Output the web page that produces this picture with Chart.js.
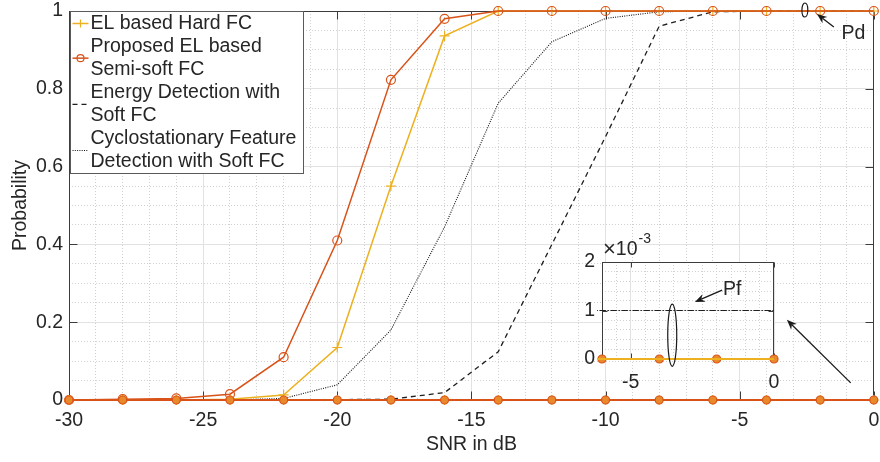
<!DOCTYPE html>
<html>
<head>
<meta charset="utf-8">
<script src="https://cdn.jsdelivr.net/npm/chart.js@4/dist/chart.umd.min.js"></script>
<style>
  html, body { margin: 0; padding: 0; background: #fff; }
  #wrap { position: relative; width: 880px; height: 462px; overflow: hidden; }
  #main { position: absolute; left: 0; top: 0; }
  #inset { position: absolute; left: 560px; top: 230px; }
</style>
</head>
<body>
<div id="wrap">
  <canvas id="main" width="880" height="462"></canvas>
  <canvas id="inset" width="230" height="170"></canvas>
</div>
<script>
// SNR sweep (dB)
const snr = [-30, -28, -26, -24, -22, -20, -18, -16, -14, -12, -10, -8, -6, -4, -2, 0];

// Probability of detection
const pdHard     = [0, 0, 0, 0.002, 0.013, 0.135, 0.55, 0.936, 1, 1, 1, 1, 1, 1, 1, 1];
const pdProposed = [0, 0.002, 0.004, 0.015, 0.11, 0.41, 0.823, 0.98, 1, 1, 1, 1, 1, 1, 1, 1];
const pdEnergy   = [0, 0, 0, 0, 0, 0.001, 0.002, 0.019, 0.124, 0.4, 0.677, 0.961, 0.998, 1, 1, 1];
const pdCyclo    = [0, 0, 0, 0, 0.004, 0.039, 0.18, 0.445, 0.763, 0.921, 0.981, 0.998, 1, 1, 1, 1];

// Probability of false alarm
const pfHard     = [0, 0, 0, 0, 0, 0, 0, 0, 0, 0, 0, 0, 0, 0, 0, 0];
const pfProposed = [0, 0, 0, 0, 0, 0, 0, 0, 0, 0, 0, 0, 0, 0, 0, 0];
const pfEnergy   = [0.001, 0.001, 0.001, 0.001, 0.001, 0.001, 0.001, 0.001, 0.001, 0.001, 0.001, 0.001, 0.001, 0.001, 0.001, 0.001];
const pfCyclo    = [0.001, 0.001, 0.001, 0.001, 0.001, 0.001, 0.001, 0.001, 0.001, 0.001, 0.001, 0.001, 0.001, 0.001, 0.001, 0.001];

// Tick values
const xTicks      = [-30, -25, -20, -15, -10, -5, 0];
const yTicks      = [0, 0.2, 0.4, 0.6, 0.8, 1];
const insetXTicks = [-5, 0];
const insetYTicks = [0, 0.001, 0.002];

// Legend entries (dataset label, wrapped text lines)
const legendKeys = ['EL based Hard FC', 'Proposed EL based Semi-soft FC', 'Energy Detection with Soft FC', 'Cyclostationary Feature Detection with Soft FC'];
const legendLines = [
  ["EL based Hard FC"],
  ["Proposed EL based", "Semi-soft FC"],
  ["Energy Detection with", "Soft FC"],
  ["Cyclostationary Feature", "Detection with Soft FC"]
];

const FONT = "'Liberation Sans', Arial, Helvetica, sans-serif";
const FSIZE = 19.5;
const TEXT = '#262626';
const AXIS = '#3c3c3c';
const GRID_MAJOR = '#e2e2e2';
const GRID_MINOR = '#d0d0d0';
const C_RED = '#D95319';
const C_YEL = '#EDB120';
const C_DOT = '#E8892B';

function stepTicks(min, max, step) {
  const t = [];
  const n = Math.round((max - min) / step);
  for (let i = 0; i <= n; i++) t.push(+(min + i * step).toFixed(6));
  return t;
}
function pts(arr) { return snr.map((x, i) => ({ x: x, y: arr[i] })); }
function setTicks(list) { return s => { s.ticks = list.map(v => ({ value: v })); }; }
function fixSize(prop, size) {
  return s => {
    s[prop] = size;
    s.paddingTop = 0; s.paddingBottom = 0; s.paddingLeft = 0; s.paddingRight = 0;
  };
}

// minor grid scale (dotted lines only, no labels, no space)
function minorScale(axis, min, max, step) {
  return {
    type: 'linear', axis: axis, position: axis === 'x' ? 'bottom' : 'left',
    min: min, max: max,
    afterBuildTicks: setTicks(stepTicks(min, max, step)),
    afterFit: fixSize(axis === 'x' ? 'height' : 'width', 0),
    ticks: { display: false },
    grid: { color: GRID_MINOR, lineWidth: 1, drawTicks: false },
    border: { display: false, dash: [1, 2] }
  };
}

function drawMarker(ctx, style, x, y, r, stroke) {
  ctx.save();
  ctx.setLineDash([]);
  ctx.lineWidth = 1.2;
  ctx.strokeStyle = stroke;
  ctx.beginPath();
  if (style === 'circle') {
    ctx.arc(x, y, r, 0, Math.PI * 2);
  } else if (style === 'cross') {
    ctx.moveTo(x - r, y); ctx.lineTo(x + r, y);
    ctx.moveTo(x, y - r); ctx.lineTo(x, y + r);
  }
  ctx.stroke();
  ctx.restore();
}

function arrow(ctx, x0, y0, x1, y1) {
  const a = Math.atan2(y1 - y0, x1 - x0);
  const c = Math.cos(a), s = Math.sin(a);
  const L = 10, W = 4;
  ctx.save();
  ctx.strokeStyle = '#1a1a1a'; ctx.fillStyle = '#1a1a1a'; ctx.lineWidth = 1.3;
  ctx.setLineDash([]);
  ctx.beginPath(); ctx.moveTo(x0, y0); ctx.lineTo(x1 - c * 7, y1 - s * 7); ctx.stroke();
  ctx.beginPath();
  ctx.moveTo(x1, y1);
  ctx.lineTo(x1 - L * c + W * s, y1 - L * s - W * c);
  ctx.lineTo(x1 - 0.7 * L * c, y1 - 0.7 * L * s);
  ctx.lineTo(x1 - L * c - W * s, y1 - L * s + W * c);
  ctx.closePath(); ctx.fill();
  ctx.restore();
}

function ellipse(ctx, xs, ys, cx, cy, rx, ry) {
  const px = xs.getPixelForValue(cx), py = ys.getPixelForValue(cy);
  const rpx = Math.abs(xs.getPixelForValue(cx + rx) - px);
  const rpy = Math.abs(ys.getPixelForValue(cy + ry) - py);
  ctx.save();
  ctx.strokeStyle = '#1a1a1a'; ctx.lineWidth = 1.2; ctx.setLineDash([]);
  ctx.beginPath(); ctx.ellipse(px, py, rpx, rpy, 0, 0, Math.PI * 2); ctx.stroke();
  ctx.restore();
}

// white plot background, box and inward tick marks on all four sides
const axesFrame = {
  id: 'axesFrame',
  beforeDraw(chart) {
    const { ctx, chartArea: a } = chart;
    ctx.save(); ctx.fillStyle = '#fff';
    ctx.fillRect(a.left, a.top, a.right - a.left, a.bottom - a.top);
    ctx.restore();
  },
  beforeDatasetsDraw(chart, args, opts) {
    const { ctx, chartArea: a, scales: { x, y } } = chart;
    const len = opts.len;
    const L = Math.round(a.left) + 0.5, R = Math.round(a.right) - 0.5;
    const T = Math.round(a.top) + 0.5, B = Math.round(a.bottom) - 0.5;
    ctx.save();
    ctx.strokeStyle = AXIS; ctx.lineWidth = 1; ctx.setLineDash([]);
    ctx.strokeRect(L, T, R - L, B - T);
    ctx.beginPath();
    x.ticks.forEach(t => {
      const p = Math.round(x.getPixelForValue(t.value)) + 0.5;
      ctx.moveTo(p, B); ctx.lineTo(p, B - len);
      ctx.moveTo(p, T); ctx.lineTo(p, T + len);
    });
    y.ticks.forEach(t => {
      const p = Math.round(y.getPixelForValue(t.value)) + 0.5;
      ctx.moveTo(L, p); ctx.lineTo(L + len, p);
      ctx.moveTo(R, p); ctx.lineTo(R - len, p);
    });
    ctx.stroke();
    ctx.restore();
  }
};

// boxed legend in the upper-left corner of the plot
const boxLegend = {
  id: 'boxLegend',
  afterDraw(chart) {
    const { ctx, chartArea: a } = chart;
    const x0 = Math.round(a.left) + 1.5, y0 = Math.round(a.top) + 0.5;
    const w = 233, h = 162, lh = 23.1;
    ctx.save();
    ctx.fillStyle = '#fff';
    ctx.fillRect(x0, y0, w, h);
    ctx.strokeStyle = '#5a5a5a'; ctx.lineWidth = 1;
    ctx.strokeRect(x0, y0, w, h);
    ctx.font = FSIZE + 'px ' + FONT;
    ctx.textBaseline = 'middle';
    ctx.textAlign = 'left';
    let line = 0;
    legendKeys.forEach((key, i) => {
      const d = chart.data.datasets.find(ds => ds.label === key);
      const lines = legendLines[i];
      const yc = y0 + 12 + lh * (line + (lines.length - 1) / 2);
      ctx.save();
      ctx.strokeStyle = d.borderColor; ctx.lineWidth = d.borderWidth;
      ctx.setLineDash(d.borderDash || []);
      ctx.beginPath(); ctx.moveTo(x0 + 2, yc); ctx.lineTo(x0 + 18, yc); ctx.stroke();
      ctx.restore();
      if (d.pointRadius > 0) drawMarker(ctx, d.pointStyle, x0 + 10, yc, d.pointRadius - 1, d.pointBorderColor || d.borderColor);
      ctx.fillStyle = TEXT;
      lines.forEach((t, k) => ctx.fillText(t, x0 + 20, y0 + 12 + lh * (line + k)));
      line += lines.length;
    });
    ctx.restore();
  }
};

// Pd marker ellipse, callout arrows and text
const mainNotes = {
  id: 'mainNotes',
  afterDraw(chart) {
    const { ctx, scales: { x, y } } = chart;
    ellipse(ctx, x, y, -2.57, 1.0026, 0.11, 0.018);
    arrow(ctx, x.getPixelForValue(-1.49), y.getPixelForValue(0.959), x.getPixelForValue(-2.12), y.getPixelForValue(0.992));
    ctx.save();
    ctx.font = FSIZE + 'px ' + FONT; ctx.fillStyle = TEXT; ctx.textBaseline = 'middle'; ctx.textAlign = 'left';
    ctx.fillText('Pd', x.getPixelForValue(-1.2), y.getPixelForValue(0.943));
    ctx.restore();
    arrow(ctx, x.getPixelForValue(-0.86), y.getPixelForValue(0.044), x.getPixelForValue(-3.24), y.getPixelForValue(0.206));
  }
};

const insetNotes = {
  id: 'insetNotes',
  afterDraw(chart) {
    const { ctx, chartArea: a, scales: { x, y } } = chart;
    ellipse(ctx, x, y, -3.55, 0.00049, 0.157, 0.00064);
    arrow(ctx, x.getPixelForValue(-1.81), y.getPixelForValue(0.00142), x.getPixelForValue(-2.76), y.getPixelForValue(0.001175));
    ctx.save();
    ctx.fillStyle = TEXT; ctx.textBaseline = 'middle'; ctx.textAlign = 'left';
    ctx.font = FSIZE + 'px ' + FONT;
    ctx.fillText('Pf', x.getPixelForValue(-1.78), y.getPixelForValue(0.00144));
    const bx = a.left + 1, by = a.top - 12.5;
    ctx.font = '22px ' + FONT;
    ctx.fillText('\u00d7', bx, by);
    const wx = ctx.measureText('\u00d7').width;
    ctx.font = FSIZE + 'px ' + FONT;
    ctx.fillText('10', bx + wx, by);
    const w = wx + ctx.measureText('10').width;
    ctx.font = '14px ' + FONT;
    ctx.fillText('-3', bx + w + 1, by - 10);
    ctx.restore();
  }
};

const tickFont = { family: FONT, size: FSIZE, lineHeight: 1.2 };

new Chart(document.getElementById('main'), {
  type: 'line',
  data: {
    datasets: [
      { label: 'Pf proposed', data: pts(pfProposed), borderColor: C_RED, borderWidth: 2,
        pointStyle: 'circle', pointRadius: 4, pointBorderColor: C_RED, pointBackgroundColor: C_DOT, pointBorderWidth: 1.2 },
      { label: 'Pf hard', data: pts(pfHard), borderColor: C_YEL, borderWidth: 2,
        pointStyle: 'cross', pointRadius: 5, pointBorderColor: C_YEL, pointBorderWidth: 1.2 },
      { label: 'Proposed EL based Semi-soft FC', data: pts(pdProposed), borderColor: C_RED, borderWidth: 1.5,
        pointStyle: 'circle', pointRadius: 4.5, pointBorderColor: C_RED, pointBackgroundColor: 'rgba(0,0,0,0)', pointBorderWidth: 1.2 },
      { label: 'EL based Hard FC', data: pts(pdHard), borderColor: C_YEL, borderWidth: 1.5,
        pointStyle: 'cross', pointRadius: 5, pointBorderColor: C_YEL, pointBorderWidth: 1.2 },
      { label: 'Energy Detection with Soft FC', data: pts(pdEnergy), borderColor: '#1f1f1f', borderWidth: 1.3,
        borderDash: [5, 4], pointRadius: 0 },
      { label: 'Cyclostationary Feature Detection with Soft FC', data: pts(pdCyclo), borderColor: '#141414', borderWidth: 1.1,
        borderDash: [1, 1.3], pointRadius: 0 },
      { label: 'Pf energy', data: pts(pfEnergy), borderColor: '#1f1f1f', borderWidth: 1.2, borderDash: [6, 2, 1, 2], pointRadius: 0 },
      { label: 'Pf cyclo', data: pts(pfCyclo), borderColor: '#1f1f1f', borderWidth: 1.2, borderDash: [6, 2, 1, 2], pointRadius: 0 }
    ]
  },
  options: {
    responsive: false, animation: false, devicePixelRatio: 1,
    clip: 6,
    layout: { padding: { left: 0, top: 11, right: 5, bottom: 0 } },
    elements: { line: { tension: 0 } },
    plugins: { legend: { display: false }, tooltip: { enabled: false }, axesFrame: { len: 8 } },
    scales: {
      xm: minorScale('x', -30, 0, 1),
      ym: minorScale('y', 0, 1, 0.05),
      x: {
        type: 'linear', position: 'bottom', min: -30, max: 0,
        afterBuildTicks: setTicks(xTicks),
        afterFit: fixSize('height', 62),
        grid: { color: GRID_MAJOR, lineWidth: 1, drawTicks: false },
        border: { display: false },
        ticks: { color: TEXT, font: tickFont, padding: 9, maxRotation: 0, autoSkip: false, callback: v => String(v) },
        title: { display: true, text: 'SNR in dB', color: TEXT, font: tickFont, padding: { top: 0, bottom: 6 } }
      },
      y: {
        type: 'linear', position: 'left', min: 0, max: 1,
        afterBuildTicks: setTicks(yTicks),
        afterFit: fixSize('width', 69),
        grid: { color: GRID_MAJOR, lineWidth: 1, drawTicks: false },
        border: { display: false },
        ticks: { color: TEXT, font: tickFont, padding: 6, autoSkip: false, callback: v => String(v) },
        title: { display: true, text: 'Probability', color: TEXT, font: tickFont, padding: { top: 9, bottom: 0 } }
      }
    }
  },
  plugins: [axesFrame, boxLegend, mainNotes]
});

// zoomed view of the false-alarm curves
new Chart(document.getElementById('inset'), {
  type: 'line',
  data: {
    datasets: [
      { label: 'Pf hard', data: pts(pfHard), borderColor: C_YEL, borderWidth: 2.2, pointRadius: 0 },
      { label: 'Pf proposed', data: pts(pfProposed), borderColor: C_RED, borderWidth: 2,
        pointStyle: 'circle', pointRadius: 4, pointBorderColor: C_RED, pointBackgroundColor: C_DOT, pointBorderWidth: 1.2 },
      { label: 'Pf energy', data: pts(pfEnergy), borderColor: '#1f1f1f', borderWidth: 1.2, borderDash: [6, 2, 1, 2], pointRadius: 0 },
      { label: 'Pf cyclo', data: pts(pfCyclo), borderColor: '#1f1f1f', borderWidth: 1.2, borderDash: [6, 2, 1, 2], pointRadius: 0 }
    ]
  },
  options: {
    responsive: false, animation: false, devicePixelRatio: 1,
    clip: 5,
    layout: { padding: { left: 0, top: 32, right: 16, bottom: 0 } },
    elements: { line: { tension: 0 } },
    plugins: { legend: { display: false }, tooltip: { enabled: false }, axesFrame: { len: 5 } },
    scales: {
      xm: minorScale('x', -6, 0, 0.5),
      ym: minorScale('y', 0, 0.002, 0.0002),
      x: {
        type: 'linear', position: 'bottom', min: -6, max: 0,
        afterBuildTicks: setTicks(insetXTicks),
        afterFit: fixSize('height', 41),
        grid: { color: GRID_MAJOR, lineWidth: 1, drawTicks: false },
        border: { display: false },
        ticks: { color: TEXT, font: tickFont, padding: 12, maxRotation: 0, autoSkip: false, callback: v => String(v) }
      },
      y: {
        type: 'linear', position: 'left', min: 0, max: 0.002,
        afterBuildTicks: setTicks(insetYTicks),
        afterFit: fixSize('width', 42),
        grid: { color: GRID_MAJOR, lineWidth: 1, drawTicks: false },
        border: { display: false },
        ticks: { color: TEXT, font: tickFont, padding: 7, autoSkip: false, callback: v => String(Math.round(v * 1000)) }
      }
    }
  },
  plugins: [axesFrame, insetNotes]
});
</script>
</body>
</html>
